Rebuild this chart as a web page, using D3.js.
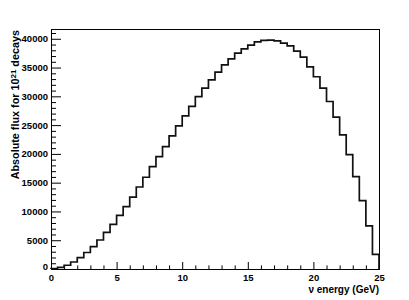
<!DOCTYPE html>
<html>
<head>
<meta charset="utf-8">
<script src="https://cdn.jsdelivr.net/npm/d3@7"></script>
<style>
  body { margin: 0; background: #fff; }
  svg text { font-family: "Liberation Sans", Arial, sans-serif; font-weight: bold; }
</style>
</head>
<body>
<div class="canvas"></div>
<script>
// histogram: 50 bins of 0.5 GeV from 0 to 25
const binLow = 0;
const binHigh = 25;
const binWidth = 0.5;
const counts = [
    80, 290, 650, 1220, 1970, 2870, 3880, 5040, 6380, 7770,
    9330, 10840, 12500, 14250, 15940, 17800, 19540, 21270, 23130, 24870,
    26610, 28260, 29940, 31420, 32870, 34200, 35480, 36520, 37510, 38260,
    38900, 39450, 39710, 39770, 39650, 39250, 38780, 37860, 36800, 35130,
    33400, 31420, 29100, 26380, 23300, 19860, 16060, 11880, 7480, 2550
];
const xMajorTicks = [0, 5, 10, 15, 20, 25];
const yMajorTicks = [0, 5000, 10000, 15000, 20000, 25000, 30000, 35000, 40000];
const yMax = 41700;
const xTitle = 'ν energy (GeV)';

const margin = {top: 29, right: 30, bottom: 31, left: 51};
const width = 409, height = 300;
const graphWidth = width - margin.left - margin.right;
const graphHeight = height - margin.top - margin.bottom;

const svg = d3.select('.canvas')
    .append('svg')
    .attr('width', width)
    .attr('height', height);

svg.append('rect')
    .attr('width', width)
    .attr('height', height)
    .attr('fill', '#fff');

const graph = svg.append('g')
    .attr('transform', `translate(${margin.left}, ${margin.top})`);

// scales
const x = d3.scaleLinear().domain([binLow, binHigh]).range([0, graphWidth]);
const y = d3.scaleLinear().domain([0, yMax]).range([graphHeight, 0]);

// minor ticks
const xMinor = d3.range(binLow, binHigh + 0.001, 1).filter(d => d % 5 !== 0);
const yMinor = d3.range(0, yMax, 1000).filter(d => d % 5000 !== 0);

graph.append('g')
    .attr('class', 'x-minor')
    .attr('transform', `translate(0, ${graphHeight})`)
    .call(d3.axisBottom(x).tickValues(xMinor).tickSize(-3.6).tickFormat(''));

graph.append('g')
    .attr('class', 'y-minor')
    .call(d3.axisLeft(y).tickValues(yMinor).tickSize(-5).tickFormat(''));

// major axes
const xAxis = d3.axisBottom(x)
    .tickValues(xMajorTicks)
    .tickSize(-7)
    .tickPadding(5)
    .tickFormat(d3.format('d'));

const yAxis = d3.axisLeft(y)
    .tickValues(yMajorTicks)
    .tickSize(-10)
    .tickPadding(3)
    .tickFormat(d3.format('d'));

const xAxisGroup = graph.append('g')
    .attr('class', 'x-axis')
    .attr('transform', `translate(0, ${graphHeight})`)
    .call(xAxis);

const yAxisGroup = graph.append('g')
    .attr('class', 'y-axis')
    .call(yAxis);

graph.selectAll('.domain').remove();
graph.selectAll('.tick line').attr('stroke', '#000').attr('stroke-width', 1);
graph.selectAll('.tick text')
    .attr('fill', '#000')
    .style('font-size', '9.5px');

// the y "0" sits a bit low like ROOT does
yAxisGroup.selectAll('.tick text').filter(d => d === 0).attr('dy', '0.1em');

// frame
graph.append('rect')
    .attr('x', 0.5)
    .attr('y', 0.5)
    .attr('width', graphWidth)
    .attr('height', graphHeight)
    .attr('fill', 'none')
    .attr('stroke', '#000')
    .attr('stroke-width', 1);

// histogram outline
const pts = [[binLow, 0]];
counts.forEach((c, i) => pts.push([binLow + i * binWidth, c]));
pts.push([binHigh, counts[counts.length - 1]]);
pts.push([binHigh, 0]);

const histLine = d3.line()
    .x(d => x(d[0]))
    .y(d => y(d[1]))
    .curve(d3.curveStepAfter);

graph.append('path')
    .datum(pts)
    .attr('fill', 'none')
    .attr('stroke', '#111')
    .attr('stroke-width', 1.7)
    .attr('d', histLine);

// axis titles
graph.append('text')
    .attr('x', graphWidth)
    .attr('y', graphHeight + 24)
    .attr('text-anchor', 'end')
    .style('font-size', '10px')
    .text(xTitle);

const yTitle = graph.append('text')
    .attr('transform', `translate(${-32}, 1) rotate(-90)`)
    .attr('text-anchor', 'end')
    .style('font-size', '10.8px');
yTitle.append('tspan').text('Absolute flux for 10');
yTitle.append('tspan').attr('baseline-shift', '40%').style('font-size', '8px').text('21');
yTitle.append('tspan').text(' decays');
</script>
</body>
</html>
